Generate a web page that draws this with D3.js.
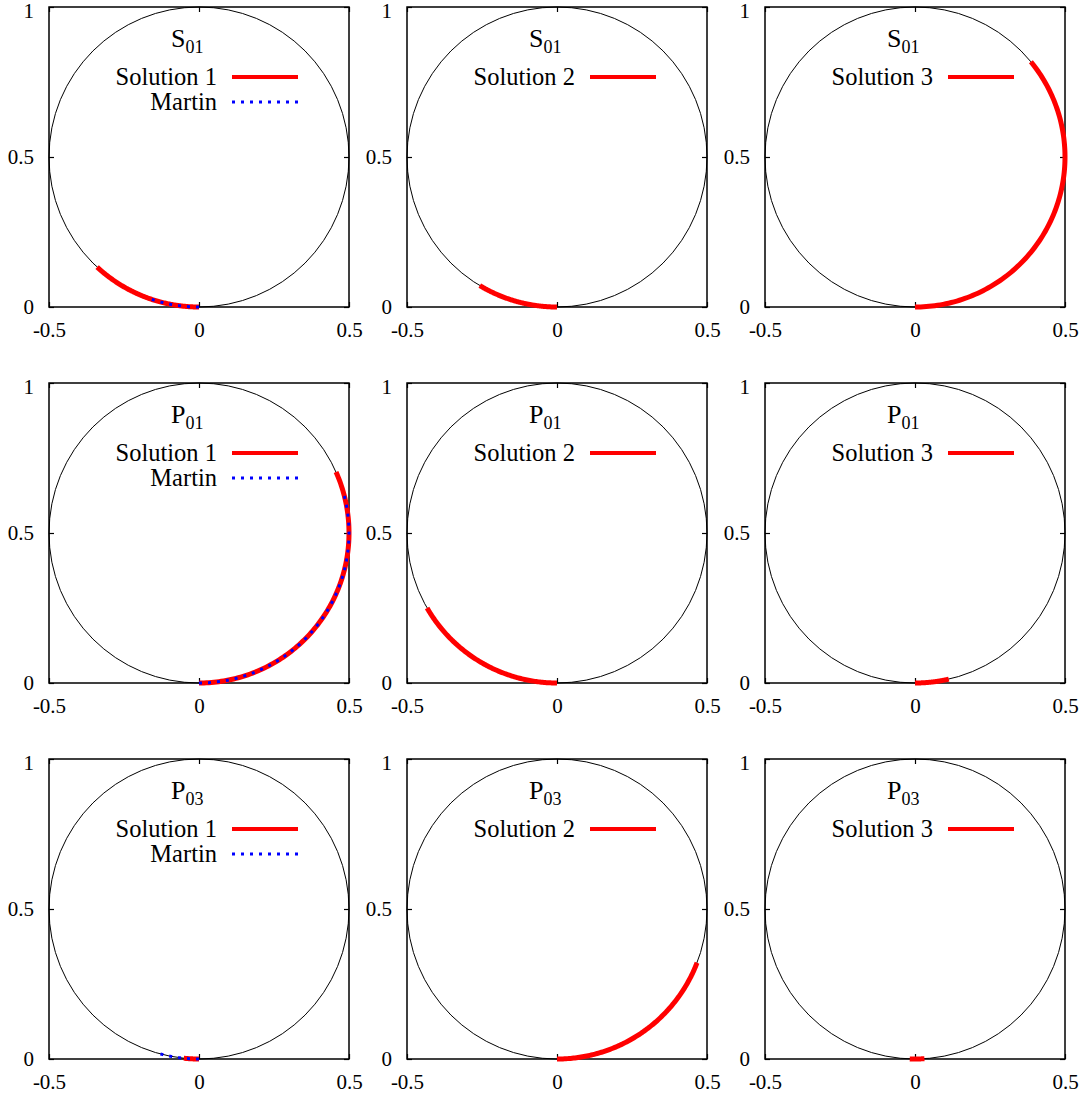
<!DOCTYPE html>
<html>
<head>
<meta charset="utf-8">
<script src="https://cdn.jsdelivr.net/npm/d3@7"></script>
<style>
  html, body { margin: 0; padding: 0; background: #fff; }
  svg { display: block; }
  text { font-family: "Liberation Serif", "Times New Roman", "DejaVu Serif", serif; fill: #000; }
</style>
</head>
<body>
<svg id="chart" width="1091" height="1093"></svg>
<script>
// Partial-wave Argand diagrams: each row is one wave, each column one solution.
const waveLetters   = ["S", "P", "P"];
const waveIndices   = ["01", "01", "03"];
const solutionNames = ["Solution 1", "Solution 2", "Solution 3"];

// Phase-shift range (degrees) traced by each solution, rows = waves, cols = solutions
const solutionPhaseStart = [
  [0, 0, 0],
  [0, 0, 0],
  [0, 0, -1.0]
];
const solutionPhaseEnd = [
  [-21.4, -15.5, 64.7],
  [57.0, -30.0, 6.5],
  [-2.9, 34.5, 1.8]
];
// Martin's phase-shift range, drawn in the first column only
const martinPhaseStart = [0, 0, 0];
const martinPhaseEnd   = [-10.0, 53.0, -7.5];

const xTicks = [-0.5, 0, 0.5];
const yTicks = [0, 0.5, 1];

const panelSize = 300;
const colLeft = [49, 407, 765];
const rowTop  = [7, 383, 759];
const serif = "Liberation Serif, Times New Roman, DejaVu Serif, serif";

const svg = d3.select("#chart");

const x = d3.scaleLinear().domain([-0.5, 0.5]).range([0, panelSize]);
const y = d3.scaleLinear().domain([0, 1]).range([panelSize, 0]);

// Elastic unitarity circle: Re = sin(d)cos(d), Im = sin^2(d)
const toArgand = deg => {
  const d = deg * Math.PI / 180;
  return [Math.sin(d) * Math.cos(d), Math.sin(d) * Math.sin(d)];
};
const arcPath = (d0, d1) => {
  const n = 120;
  const pts = d3.range(n + 1).map(i => toArgand(d0 + (d1 - d0) * i / n));
  return d3.line().x(p => x(p[0])).y(p => y(p[1]))(pts);
};

function styleAxis(g, withLabels) {
  g.select(".domain").remove();
  g.selectAll(".tick line").attr("stroke", "#000").attr("stroke-width", 1.2);
  if (withLabels) {
    g.selectAll(".tick text")
      .attr("font-family", serif)
      .attr("font-size", 21)
      .attr("fill", "#000");
  } else {
    g.selectAll(".tick text").remove();
  }
}

for (let r = 0; r < 3; r++) {
  for (let c = 0; c < 3; c++) {
    const g = svg.append("g").attr("transform", `translate(${colLeft[c]},${rowTop[r]})`);

    // unitarity circle
    g.append("circle")
      .attr("cx", x(0)).attr("cy", y(0.5))
      .attr("r", x(0.5) - x(0))
      .attr("fill", "none").attr("stroke", "#000").attr("stroke-width", 1);

    // axes with inward ticks
    g.append("g").attr("transform", `translate(0,${panelSize})`)
      .call(d3.axisBottom(x).tickValues(xTicks).tickSize(-5).tickSizeOuter(0)
        .tickPadding(15).tickFormat(d => String(d)))
      .call(a => styleAxis(a, true));
    g.append("g")
      .call(d3.axisTop(x).tickValues(xTicks).tickSize(-5).tickSizeOuter(0).tickFormat(""))
      .call(a => styleAxis(a, false));
    g.append("g")
      .call(d3.axisLeft(y).tickValues(yTicks).tickSize(-5).tickSizeOuter(0)
        .tickPadding(15).tickFormat(d => String(d)))
      .call(a => styleAxis(a, true))
      .call(a => a.selectAll(".tick text").filter(d => d === 1).attr("dy", "0.5em"));
    g.append("g").attr("transform", `translate(${panelSize},0)`)
      .call(d3.axisRight(y).tickValues(yTicks).tickSize(-5).tickSizeOuter(0).tickFormat(""))
      .call(a => styleAxis(a, false));

    // frame
    g.append("rect")
      .attr("x", 0).attr("y", 0).attr("width", panelSize).attr("height", panelSize)
      .attr("fill", "none").attr("stroke", "#000").attr("stroke-width", 1.5);

    // solution trajectory
    g.append("path")
      .attr("d", arcPath(solutionPhaseStart[r][c], solutionPhaseEnd[r][c]))
      .attr("fill", "none").attr("stroke", "#ff0000")
      .attr("stroke-width", 5).attr("stroke-linecap", "butt");

    if (c === 0) {
      g.append("path")
        .attr("d", arcPath(martinPhaseStart[r], martinPhaseEnd[r]))
        .attr("fill", "none").attr("stroke", "#0000ff")
        .attr("stroke-width", 3).attr("stroke-dasharray", "3,6");
    }

    // key title
    const title = g.append("text").attr("x", 122).attr("y", 40)
      .attr("font-family", serif).attr("font-size", 26);
    title.append("tspan").text(waveLetters[r]);
    title.append("tspan").attr("font-size", 18).attr("dy", 6).text(waveIndices[r]);

    // key entries
    g.append("text").attr("x", 168).attr("y", 78).attr("text-anchor", "end")
      .attr("font-family", serif).attr("font-size", 24.5).text(solutionNames[c]);
    g.append("line").attr("x1", 183).attr("x2", 249).attr("y1", 70).attr("y2", 70)
      .attr("stroke", "#ff0000").attr("stroke-width", 4);

    if (c === 0) {
      g.append("text").attr("x", 168).attr("y", 103).attr("text-anchor", "end")
        .attr("font-family", serif).attr("font-size", 24.5).text("Martin");
      g.append("line").attr("x1", 183).attr("x2", 249).attr("y1", 95).attr("y2", 95)
        .attr("stroke", "#0000ff").attr("stroke-width", 3).attr("stroke-dasharray", "3,6");
    }
  }
}
</script>
</body>
</html>
